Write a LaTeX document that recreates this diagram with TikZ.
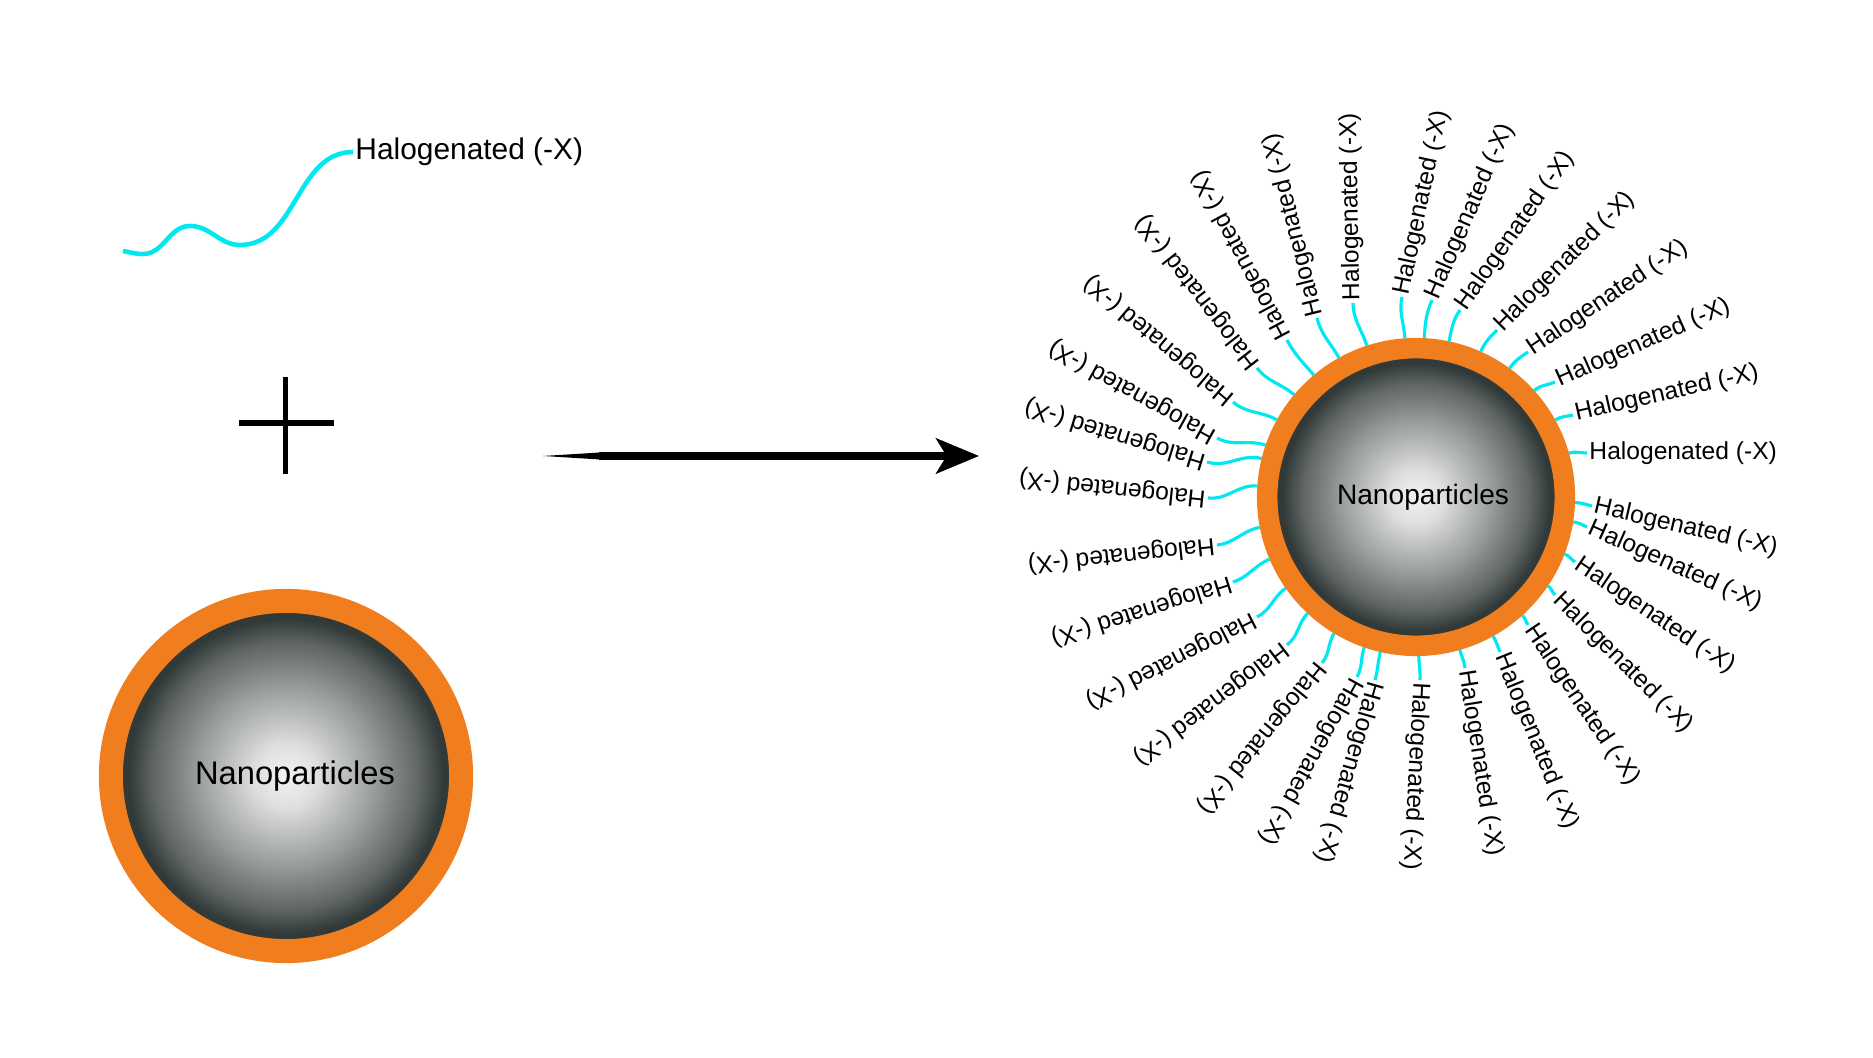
\documentclass[tikz,border=0pt]{standalone}
\usepackage{fontspec}
\setmainfont{Liberation Sans}
\usetikzlibrary{arrows.meta}
\definecolor{npOrange}{RGB}{240,125,30}
\definecolor{npCyan}{RGB}{0,232,240}
\definecolor{npLight}{RGB}{242,242,242}
\definecolor{npPale}{RGB}{222,223,223}
\definecolor{npMid}{RGB}{150,154,153}
\definecolor{npDeep}{RGB}{95,102,101}
\definecolor{npDark}{RGB}{50,58,57}
\pgfdeclareradialshading{npshade}{\pgfpoint{0bp}{0bp}}{color(0bp)=(npLight); color(4.5bp)=(npPale); color(13bp)=(npMid); color(19bp)=(npDeep); color(22.5bp)=(npDark); color(50bp)=(npDark)}

\begin{document}
\begin{tikzpicture}[x=0.01cm, y=0.01cm,
    npball/.style={circle, draw=npOrange, shade, shading=npshade, inner sep=0pt},
    tether/.style={draw=npCyan, line width=0.9pt},
    halo/.style={anchor=west, rotate=#1, inner sep=0.5pt, font=\fontsize{7}{8}\selectfont}]
  \useasboundingbox (0,0) rectangle (1873,1058);
  % free ligand
  \node[anchor=west, inner sep=0.5pt, font=\fontsize{8.5}{10}\selectfont] (hal0) at (353,906) {Halogenated (-X)};
  \coordinate (tail) at (123,807);
  \draw[tether, line width=1.3pt] (tail) to[out=-10,in=180] (143,804) to[out=0,in=180] (190,832)
     to[out=0,in=180] (240,813) to[out=0,in=180] (hal0.west);
  % plus
  \draw[line width=1.7pt] (239,635) -- (334,635);
  \draw[line width=1.7pt] (285.5,584) -- (285.5,681);
  % bare particle
  \node[npball, minimum size=3.5cm, line width=0.24cm, font=\fontsize{9.3}{11}\selectfont] (np1) at (286,282) {\hspace{0.18cm}Nanoparticles};
  % reaction arrow
  \coordinate (arrstart) at (543,602);
  \coordinate (arrend) at (979,602);
  \fill (arrstart) -- (600,598.5) -- (600,605.5) -- cycle;
  \draw[line width=2pt, -{Stealth[length=12.2pt, width=10pt, inset=3pt]}] (599,602) -- (arrend);
  % functionalised particle
  \node[npball, minimum size=2.975cm, line width=0.205cm, font=\fontsize{8}{10}\selectfont] (np2) at (1416,561) {\hspace{0.14cm}Nanoparticles};
  \foreach \i/\sa/\x/\y/\r [evaluate=\r as \ri using \r+180] in
    {1/16/1587/605/0, 2/29/1573/643/12.8, 3/42/1555/676/23.8, 4/54/1528/706/34,
     5/66/1497/728/45, 6/78/1460/748/55, 7/87/1432/758/66.6, 8/94/1402/761/78,
     9/108/1353/755/91, 10/119/1317/740/104, 11/130/1287/718/118, 12/140/1257/690/128,
     13/151/1233/656/140, 14/161/1217/620/151, 15/166/1207/596/163, 16/176/1208/560/174,
     17/191/1217/513/186, 18/203/1233/476/197.6, 19/215/1257/441/207, 20/227/1287/413/217.5,
     21/239/1322/395/231, 22/251/1357/381/241, 23/257/1375/378/254, 24/271/1420/378/267,
     25/286/1465/390/279, 26/299/1500/406/292, 27/312/1528/433/304, 28/326/1555/463/315,
     29/339/1575/496/326, 30/351/1587/531/336, 31/358/1592/552/347}
  {
    \node[halo=\r] (hal\i) at (\x,\y) {Halogenated (-X)};
    \draw[tether] (np2.\sa) to[out=\sa, in=\ri] (hal\i.west);
  }
\end{tikzpicture}
\end{document}
